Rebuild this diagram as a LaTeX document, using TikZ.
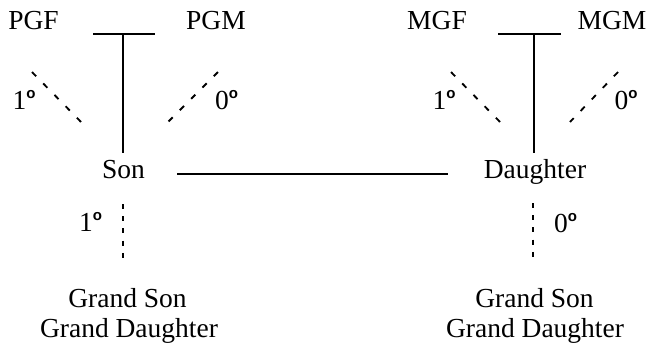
\documentclass[tikz,border=0pt]{standalone}
\usepackage{fontspec}
\setmainfont{Liberation Serif}
\setsansfont{Liberation Sans}
% small bold degree mark used after the numbers
\newcommand\degmark{\raisebox{11pt}{\fontsize{15}{15}\selectfont\sffamily\bfseries o}}
\begin{document}
\begin{tikzpicture}[x=1pt,y=-1pt,
  lbl/.style={font=\fontsize{27.5}{30}\selectfont, inner sep=0pt, anchor=base},
  link/.style={line width=1.8pt},
  dotlink/.style={line width=1.8pt, dash pattern=on 6pt off 10pt},
  dotdown/.style={line width=1.8pt, dash pattern=on 5pt off 7.2pt}]
\useasboundingbox (0,0) rectangle (650,349);

% paternal side
\node[lbl] (pgf) at (33.5,29) {PGF};
\node[lbl] (pgm) at (216,29) {PGM};
\node[lbl] (pd1) at (24,109) {1\degmark};
\node[lbl] (pd0) at (226.5,109) {0\degmark};
\node[lbl] (son) at (123.5,178) {Son};

% maternal side
\node[lbl] (mgf) at (437,29) {MGF};
\node[lbl] (mgm) at (612,29) {MGM};
\node[lbl] (md1) at (444,109) {1\degmark};
\node[lbl] (md0) at (626,109) {0\degmark};
\node[lbl] (dau) at (535,178) {Daughter};

% descendants
\node[lbl] (sd1) at (90.5,231) {1\degmark};
\node[lbl] (sd0) at (565.5,232) {0\degmark};
\node[lbl] (gsl) at (127.5,307) {Grand Son};
\node[lbl] (gdl) at (129,337) {Grand Daughter};
\node[lbl] (gsr) at (534.5,307) {Grand Son};
\node[lbl] (gdr) at (535,337) {Grand Daughter};

% connector end points
\coordinate (pbarL) at (93,34);
\coordinate (pbarR) at (155,34);
\coordinate (pbarM) at (123,34);
\coordinate (sonTop) at (123,153);
\coordinate (mbarL) at (498,34);
\coordinate (mbarR) at (561,34);
\coordinate (mbarM) at (534,34);
\coordinate (dauTop) at (534,153);
\coordinate (sonR) at (177,174);
\coordinate (dauL) at (448,174);

\coordinate (pfA) at (32,72);   \coordinate (pfB) at (81,122);
\coordinate (pmA) at (218,72);  \coordinate (pmB) at (168,122);
\coordinate (mfA) at (451,72);  \coordinate (mfB) at (500,122);
\coordinate (mmA) at (618,72);  \coordinate (mmB) at (570,122);
\coordinate (sdA) at (123,204); \coordinate (sdB) at (123,258);
\coordinate (ddA) at (533,203); \coordinate (ddB) at (533,257);

% marriage bars and parent lines
\draw[link] (pbarL) -- (pbarR);
\draw[link] (pbarM) -- (sonTop);
\draw[link] (mbarL) -- (mbarR);
\draw[link] (mbarM) -- (dauTop);
\draw[link] (sonR) -- (dauL);

% dashed relationships
\draw[dotlink] (pfA) -- (pfB);
\draw[dotlink] (pmA) -- (pmB);
\draw[dotlink] (mfA) -- (mfB);
\draw[dotlink] (mmA) -- (mmB);
\draw[dotdown] (sdA) -- (sdB);
\draw[dotdown] (ddA) -- (ddB);
\end{tikzpicture}
\end{document}
